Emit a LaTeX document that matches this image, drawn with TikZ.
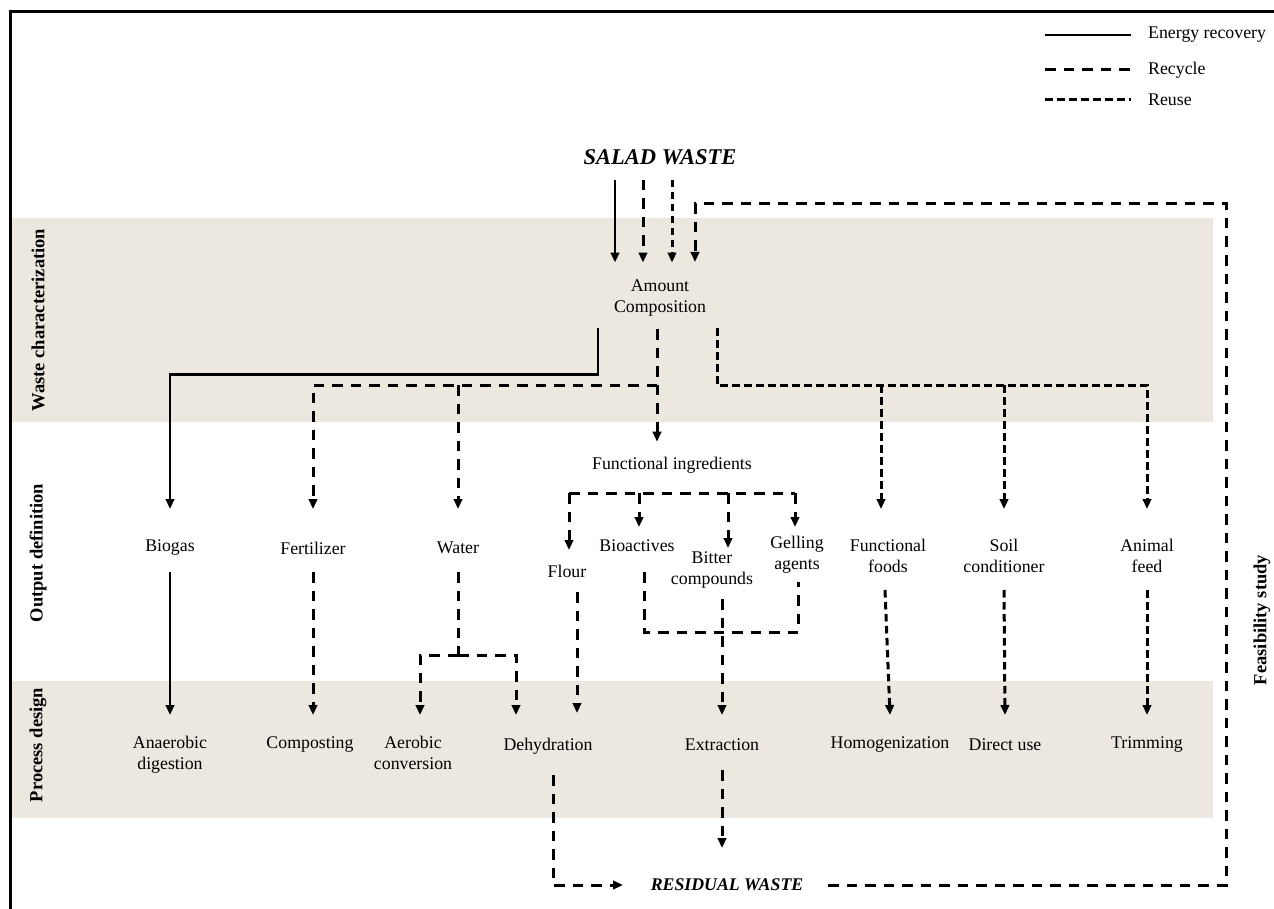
\documentclass[tikz,border=0pt]{standalone}
\usepackage{fontspec}
\setmainfont{Liberation Serif}
\usetikzlibrary{arrows.meta}
\definecolor{bandbeige}{HTML}{ECE8DF}

\begin{document}
\begin{tikzpicture}[x=1pt, y=-1pt, >={Triangle[length=10pt, width=8.5pt]},
    every node/.style={font=\fontsize{17.8}{21}\selectfont, inner sep=0pt, align=center},
    energy/.style={line width=2.7pt},
    recyc/.style={line width=3pt, dash pattern=on 10.5pt off 8pt},
    reuse/.style={line width=3pt, dash pattern=on 7.5pt off 4.5pt},
    stage/.style={rotate=90, font=\fontsize{18.5}{21}\selectfont\bfseries},
    bigtitle/.style={font=\fontsize{22.5}{26}\selectfont\bfseries\itshape}]
    \useasboundingbox (0,0) rectangle (1274,909);
    \fill[bandbeige] (12,218) rectangle (1213,422);
    \fill[bandbeige] (12,681) rectangle (1213,818);
    \draw[line width=3pt] (10,909) -- (10,12) -- (1274,12);

    % legend
    \node[anchor=west] (lgE) at (1148,35) {Energy recovery};
    \node[anchor=west] (lgC) at (1148,70) {Recycle};
    \node[anchor=west] (lgR) at (1148,100) {Reuse};
    \draw[energy] ([xshift=-103pt]lgE.west) -- ([xshift=-17pt]lgE.west);
    \draw[recyc] ([xshift=-103pt]lgC.west) -- ([xshift=-17pt]lgC.west);
    \draw[reuse] ([xshift=-103pt]lgR.west) -- ([xshift=-17pt]lgR.west);

    % stages
    \node[stage] (wc) at (38,320) {Waste characterization};
    \node[stage] (od) at (38,553) {Output definition};
    \node[stage] (pd) at (38,745) {Process design};
    \node[stage] (fs) at (1262,620) {Feasibility study};

    \node[bigtitle] (sw) at (660,157) {SALAD WASTE};
    \node (amt) at (660,298) {Amount\\Composition};

    % outputs
    \node (biogas) at (170,548) {Biogas};
    \node (fert) at (313,548) {Fertilizer};
    \node (water) at (458,548) {Water};
    \node (funci) at (672,465) {Functional ingredients};
    \node (flour) at (567,571) {Flour};
    \node (bioact) at (637,546) {Bioactives};
    \node (bitter) at (712,570) {Bitter\\compounds};
    \node (gelling) at (797,555) {Gelling\\agents};
    \node (ffoods) at (888,556) {Functional\\foods};
    \node (soil) at (1004,556) {Soil\\conditioner};
    \node (feed) at (1147,556) {Animal\\feed};

    % processes
    \node (anaer) at (170,755) {Anaerobic\\digestion};
    \node (compost) at (310,745) {Composting};
    \node (aerob) at (413,753) {Aerobic\\conversion};
    \node (dehyd) at (548,746) {Dehydration};
    \node (extr) at (722,745) {Extraction};
    \node (homog) at (890,745) {Homogenization};
    \node (direct) at (1005,745) {Direct use};
    \node (trim) at (1147,745) {Trimming};
    \node[font=\fontsize{17.8}{21}\selectfont\bfseries\itshape] (resw) at (727,885) {RESIDUAL WASTE};

    \coordinate (yTip) at (0,509);
    \coordinate (ySt) at (0,572);
    \coordinate (ySt2) at (0,590);
    \coordinate (yProc) at (0,715);

    % into characterization
    \foreach \dx/\kind in {-45/energy, -17/recyc, 12/reuse}
        \draw[\kind, ->, shorten <=15pt, shorten >=17pt] ([xshift=\dx pt]sw.south) -- ([xshift=\dx pt]amt.north);

    % energy recovery
    \draw[energy, ->] ([shift={(-62pt,-12pt)}]amt.south) -- ++(0,46) -| (biogas |- yTip);
    \draw[energy, ->] (biogas |- ySt) -- (anaer |- yProc);

    % recycle
    \draw[recyc, ->] ([shift={(-3pt,-13pt)}]amt.south) -- ([shift={(-15pt,15pt)}]funci.north);
    \draw[recyc, ->] (657,385) -| (fert |- yTip);
    \draw[recyc, ->] (water |- 0,385) -- (water |- yTip);
    \draw[recyc, ->] (fert |- ySt) -- (fert |- yProc);
    \draw[recyc] (water |- ySt) -- (water |- 0,655);
    \draw[recyc, ->] (458,655) -| (420,715);
    \draw[recyc, ->] (458,655) -| (516,715);
    \draw[recyc] (569,493) -- (795,493);
    \draw[recyc, ->] (569,493) -- (569,550);
    \draw[recyc, ->] (639,493) -- (639,527);
    \draw[recyc, ->] (728,493) -- (728,548);
    \draw[recyc, ->] (795,493) -- (795,527);
    \draw[recyc, ->] (577,592) -- (577,713);
    \draw[recyc] (644,572) |- (798,632) -- (798,582);
    \draw[recyc, ->] (722,599) -- (extr |- yProc);

    % reuse
    \draw[reuse, ->] ([shift={(57pt,-12pt)}]amt.south) -- ++(0,57) -| (feed |- yTip);
    \draw[reuse, ->] (881,385) -- (881,509);
    \draw[reuse, ->] (soil |- 0,385) -- (soil |- yTip);
    \draw[reuse, ->] (885,590) -- (homog |- yProc);
    \draw[reuse, ->] (soil |- ySt2) -- (direct |- yProc);
    \draw[reuse, ->] (feed |- ySt2) -- (trim |- yProc);

    % residual waste and feasibility loop
    \draw[recyc, ->] (553,775) |- (623,885);
    \draw[recyc, ->] (extr |- 0,770) -- (extr |- 0,848);
    \draw[recyc, ->] (828,885) -| (1226,204) -| (695,262);
\end{tikzpicture}
\end{document}
